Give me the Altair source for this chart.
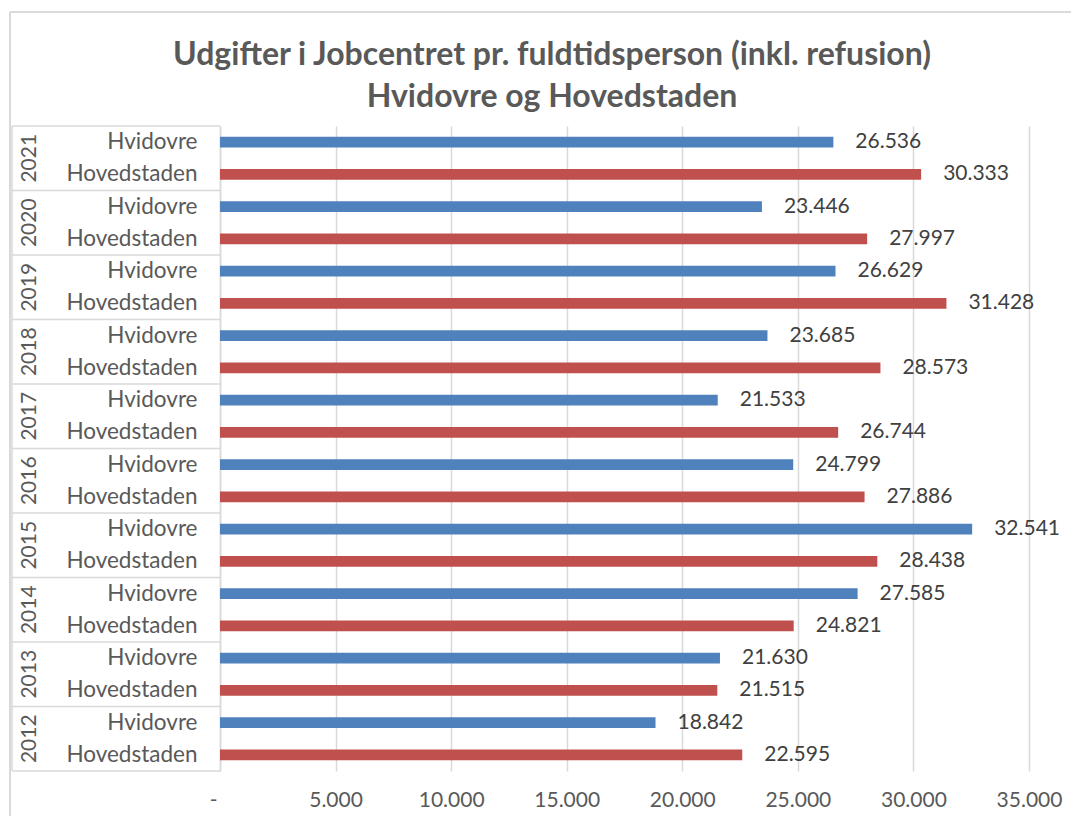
import altair as alt
import pandas as pd

years = [2021, 2020, 2019, 2018, 2017, 2016, 2015, 2014, 2013, 2012]
hvidovre = [26536, 23446, 26629, 23685, 21533, 24799, 32541, 27585, 21630, 18842]
hovedstaden = [30333, 27997, 31428, 28573, 26744, 27886, 28438, 24821, 21515, 22595]
series_names = ["Hvidovre", "Hovedstaden"]
series_colors = ["#4F81BD", "#C0504D"]
x_ticks = [0, 5000, 10000, 15000, 20000, 25000, 30000, 35000]
title_lines = ["Udgifter i Jobcentret pr. fuldtidsperson (inkl. refusion)",
               "Hvidovre og Hovedstaden"]

FONT = "Lato"
GREY = "#595959"
LINE = "#d9d9d9"
W, H = 809, 645

rows = []
for i, y in enumerate(years):
    for s, vals in zip(series_names, [hvidovre, hovedstaden]):
        v = vals[i]
        rows.append({"key": f"{y}|{s}", "year": y, "series": s, "value": v,
                     "label": f"{v:,}".replace(",", ".")})
df = pd.DataFrame(rows)
order = list(df["key"])

yscale = alt.Scale(domain=order, paddingInner=0.66, paddingOuter=0.33)

bars = alt.Chart(df).mark_bar().encode(
    y=alt.Y("key:N", sort=order, scale=yscale, title=None,
            axis=alt.Axis(labelExpr="split(datum.label, '|')[1]", ticks=False,
                          domain=True, domainColor=LINE, domainWidth=1.5, labelPadding=23,
                          labelFontSize=22.5, labelFont=FONT, labelColor=GREY,
                          grid=False)),
    x=alt.X("value:Q", scale=alt.Scale(domain=[0, 35000], nice=False), title=None,
            axis=alt.Axis(values=x_ticks, grid=True, gridColor=LINE, gridWidth=1.5,
                          domain=False, ticks=False, labelPadding=18, labelFontSize=21,
                          labelFont=FONT, labelColor=GREY,
                          labelAlign={"condition": {"test": "datum.value == 0", "value": "right"},
                                      "value": "center"},
                          labelOffset={"condition": {"test": "datum.value == 0", "value": -3},
                                       "value": 0},
                          labelExpr="datum.value == 0 ? '-' : replace(format(datum.value, ','), ',', '.')")),
    color=alt.Color("series:N", scale=alt.Scale(domain=series_names, range=series_colors),
                    legend=None),
)

labels = alt.Chart(df).mark_text(align="left", baseline="middle", dx=22,
                                 font=FONT, fontSize=21, color="#404040").encode(
    y=alt.Y("key:N", sort=order, scale=yscale),
    x=alt.X("value:Q"),
    text="label:N",
)

ydf = pd.DataFrame({"year": years, "pos": [y - 2012 + 0.5 for y in years]})
bdf = pd.DataFrame({"b": list(range(0, 11))})
qscale = alt.Scale(domain=[0, 10], nice=False, zero=False)

year_text = alt.Chart(ydf).mark_text(angle=270, align="center", baseline="middle",
                                     font=FONT, fontSize=21, color=GREY).encode(
    y=alt.Y("pos:Q", scale=qscale, axis=None),
    x=alt.value(-190),
    text="year:N",
)
seps = alt.Chart(bdf).mark_rule(color=LINE, strokeWidth=1.5).encode(
    y=alt.Y("b:Q", scale=qscale, axis=None),
    x=alt.value(-208),
    x2=alt.value(0),
)
left_line = alt.Chart(bdf).mark_rule(color=LINE, strokeWidth=1.5).encode(
    y=alt.Y("min(b):Q", scale=qscale, axis=None),
    y2="max(b):Q",
    x=alt.value(-208),
)
frame_top = alt.Chart(bdf).mark_rule(color=LINE, strokeWidth=1.5).encode(
    x=alt.value(-210), x2=alt.value(900), y=alt.value(-114))
frame_left = alt.Chart(bdf).mark_rule(color=LINE, strokeWidth=1.5).encode(
    x=alt.value(-210), y=alt.value(-114), y2=alt.value(720))

tdf = pd.DataFrame({"t": title_lines, "line": [0, 1]})
title1 = alt.Chart(tdf.iloc[[0]]).mark_text(font=FONT, fontSize=32, fontWeight="bold",
                                           color=GREY, align="center", baseline="middle").encode(
    x=alt.value(332), y=alt.value(-71), text="t:N")
title2 = alt.Chart(tdf.iloc[[1]]).mark_text(font=FONT, fontSize=32, fontWeight="bold",
                                           color=GREY, align="center", baseline="middle").encode(
    x=alt.value(332), y=alt.value(-29), text="t:N")

main = alt.layer(bars, labels)
box = alt.layer(year_text, seps, left_line)

chart = alt.layer(frame_top, frame_left, title1, title2, main, box).resolve_scale(
    y="independent").properties(
    width=W, height=H,
    autosize=alt.AutoSizeParams(type="none"),
    padding={"left": 212, "top": 118, "right": 42, "bottom": 45},
).configure(background="white").configure_view(strokeWidth=0, stroke="transparent")

chart.save("out.html", embed_options={"renderer": "svg", "actions": False})
